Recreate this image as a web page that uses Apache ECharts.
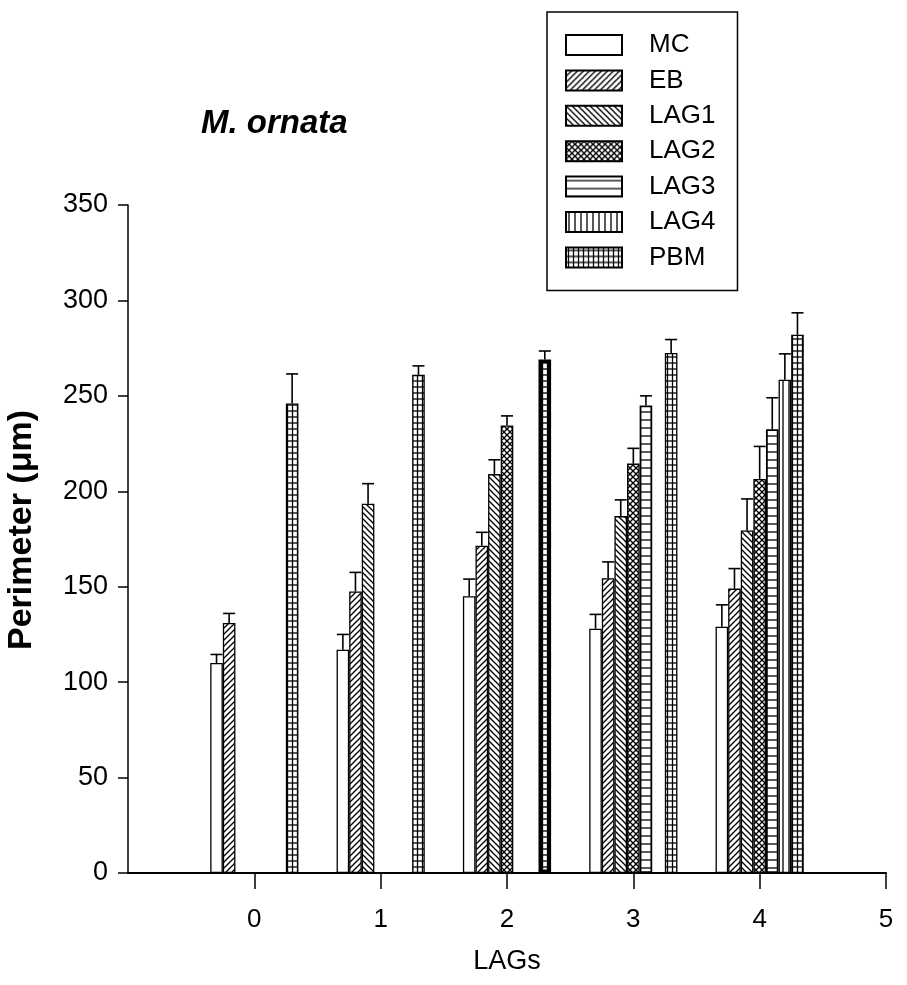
<!DOCTYPE html>
<html>
<head>
<meta charset="utf-8">
<script src="https://cdn.jsdelivr.net/npm/echarts@6/dist/echarts.min.js"></script>
<style>
  html, body { margin: 0; padding: 0; background: #fff; }
  #chart { width: 907px; height: 985px; }
</style>
</head>
<body>
<div id="chart"></div>
<script>
// data
const lags = [0, 1, 2, 3, 4];
const seriesNames = ['MC', 'EB', 'LAG1', 'LAG2', 'LAG3', 'LAG4', 'PBM'];
const mc = [110, 117, 145, 128, 129];
const mcErr = [4.5, 8, 9, 7.5, 11.5];
const eb = [131, 147.5, 171.5, 154.5, 149];
const ebErr = [5, 10, 7, 8.5, 10.5];
const lag1 = [null, 193.5, 209, 187, 179.5];
const lag1Err = [null, 10.5, 7.5, 8.5, 16.5];
const lag2 = [null, null, 234.5, 214.5, 206.5];
const lag2Err = [null, null, 5, 8, 17];
const lag3 = [null, null, null, 245, 232.5];
const lag3Err = [null, null, null, 5, 16.5];
const lag4 = [null, null, null, null, 258.5];
const lag4Err = [null, null, null, null, 13.5];
const pbm = [246, 261, 269, 272.5, 282];
const pbmErr = [15.5, 4.7, 4.5, 7, 11.5];
const xTicks = [0, 1, 2, 3, 4, 5];

const values = [mc, eb, lag1, lag2, lag3, lag4, pbm];
const errors = [mcErr, ebErr, lag1Err, lag2Err, lag3Err, lag4Err, pbmErr];

const FONT = '"Liberation Sans", Arial, sans-serif';
const BAR_W = 12.6;

// hatch fills
function hatch(kind) {
  const c = document.createElement('canvas');
  const sizes = { blank: [4, 4], fwd: [6, 6], back: [6, 6], cross: [6, 6], horiz: [8, 8], vert: [6, 6], grid: [5, 6] };
  const [w, h] = sizes[kind];
  c.width = w; c.height = h;
  const g = c.getContext('2d');
  g.fillStyle = '#fff';
  g.fillRect(0, 0, w, h);
  g.strokeStyle = '#000';
  g.lineWidth = 1.3;
  const line = (x1, y1, x2, y2) => { g.beginPath(); g.moveTo(x1, y1); g.lineTo(x2, y2); g.stroke(); };
  if (kind === 'fwd' || kind === 'cross') {
    line(-1, h + 1, w + 1, -1); line(-1, 1, 1, -1); line(w - 1, h + 1, w + 1, h - 1);
  }
  if (kind === 'back' || kind === 'cross') {
    line(-1, -1, w + 1, h + 1); line(w - 1, -1, w + 1, 1); line(-1, h - 1, 1, h + 1);
  }
  if (kind === 'horiz') line(0, 4, w, 4);
  if (kind === 'vert') line(3, 0, 3, h);
  if (kind === 'grid') { line(2.5, 0, 2.5, h); line(0, 3, w, 3); }
  return { image: c, repeat: 'repeat' };
}
const fills = ['blank', 'fwd', 'back', 'cross', 'horiz', 'vert', 'grid'].map(hatch);

const chart = echarts.init(document.getElementById('chart'), null, { renderer: 'canvas' });

const barSeries = seriesNames.map((name, k) => ({
  name: name,
  type: 'bar',
  barWidth: BAR_W,
  barGap: '0%',
  itemStyle: {
    color: fills[k],
    borderColor: '#000',
    borderWidth: k === 4 ? 1.8 : 1.3
  },
  emphasis: { disabled: true },
  data: lags
    .map((x, i) => values[k][i] == null ? null : {
      value: [x, values[k][i]],
      itemStyle: (k === 6 && x === 2) ? { borderWidth: 3.5 } : undefined
    })
    .filter(d => d)
}));

// upper error bars
const errData = [];
seriesNames.forEach((name, k) => {
  lags.forEach((x, i) => {
    if (values[k][i] != null) errData.push([x, values[k][i], errors[k][i], k]);
  });
});

const errSeries = {
  type: 'custom',
  name: 'err',
  z: 3,
  silent: true,
  data: errData,
  encode: { x: 0, y: 1 },
  renderItem: function (params, api) {
    const x = api.value(0), v = api.value(1), e = api.value(2), k = api.value(3);
    const base = api.coord([x, v]);
    const top = api.coord([x, v + e]);
    const cx = base[0] + (k - 3) * BAR_W;
    const st = { stroke: '#000', lineWidth: 1.6 };
    return {
      type: 'group',
      children: [
        { type: 'line', shape: { x1: cx, y1: base[1], x2: cx, y2: top[1] }, style: st },
        { type: 'line', shape: { x1: cx - 6, y1: top[1], x2: cx + 6, y2: top[1] }, style: st }
      ]
    };
  }
};

chart.setOption({
  backgroundColor: '#fff',
  animation: false,
  title: {
    text: 'M. ornata',
    left: 196,
    top: 102,
    textStyle: { fontFamily: FONT, fontSize: 33, fontWeight: 'bold', fontStyle: 'italic', color: '#000' }
  },
  legend: {
    data: seriesNames,
    orient: 'vertical',
    left: 547,
    top: 12,
    padding: [20, 22, 20, 18],
    borderColor: '#000',
    borderWidth: 1.5,
    icon: 'rect',
    itemWidth: 56,
    itemHeight: 20,
    itemGap: 9.4,
    selectedMode: false,
    textStyle: { fontFamily: FONT, fontSize: 26, color: '#000', lineHeight: 20, padding: [0, 0, 0, 22] }
  },
  grid: { left: 128, right: 21, top: 205, bottom: 112, containLabel: false, outerBoundsMode: 'none' },
  xAxis: {
    type: 'value',
    min: -1,
    max: 5,
    interval: 1,
    name: 'LAGs',
    nameLocation: 'middle',
    nameGap: 75,
    nameTextStyle: { fontFamily: FONT, fontSize: 27, color: '#000' },
    axisLine: { onZero: false, lineStyle: { color: '#000', width: 2 } },
    axisTick: { inside: false, length: 16, customValues: xTicks, lineStyle: { color: '#000', width: 1.5 } },
    axisLabel: {
      margin: 34,
      customValues: xTicks,
      fontFamily: FONT, fontSize: 26, color: '#000'
    },
    splitLine: { show: false }
  },
  yAxis: {
    type: 'value',
    min: 0,
    max: 350,
    interval: 50,
    name: 'Perimeter (\u03bcm)',
    nameLocation: 'middle',
    nameGap: 89,
    nameTextStyle: { fontFamily: FONT, fontSize: 34, fontWeight: 'bold', color: '#000', padding: [0, 0, 0, 18] },
    axisLine: { show: true, onZero: false, lineStyle: { color: '#000', width: 1.5 } },
    axisTick: { inside: false, length: 10, lineStyle: { color: '#000', width: 1.5 } },
    axisLabel: { margin: 20, fontFamily: FONT, fontSize: 27, color: '#000' },
    splitLine: { show: false }
  },
  series: barSeries.concat([errSeries])
});
</script>
</body>
</html>
